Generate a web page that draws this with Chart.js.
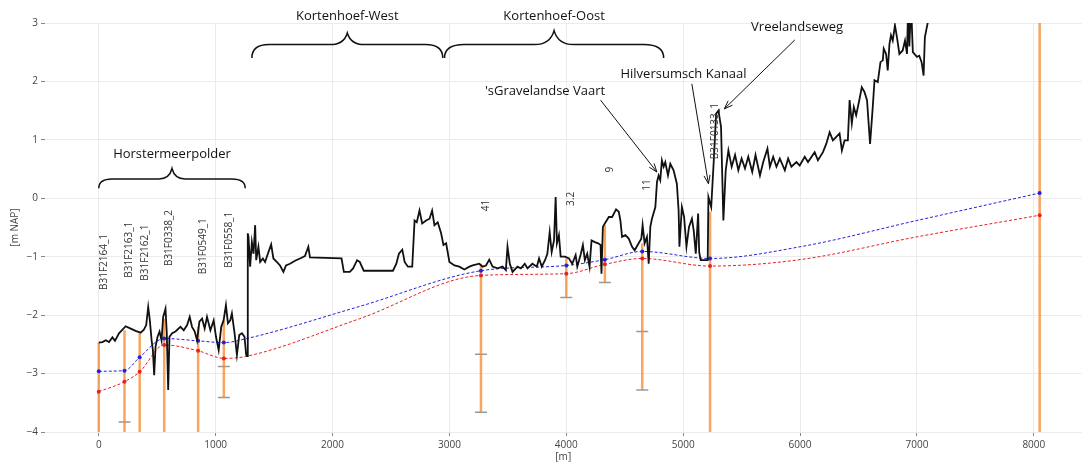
<!DOCTYPE html>
<html>
<head>
<meta charset="utf-8">
<script src="https://cdn.jsdelivr.net/npm/chart.js@4.4.1/dist/chart.umd.min.js"></script>
<style>
  body { margin: 0; background: #fff; }
  #wrap { width: 1089px; height: 465px; }
</style>
</head>
<body>
<div id="wrap"><canvas id="chart" width="1089" height="465"></canvas></div>
<script>
// Ground level along the profile [m] -> [m NAP]
const groundX = [0,31,60,88,117,139,173,230,273,315,358,386,406,423,437,452,463,474,486,503,520,537,551,571,582,594,605,628,656,699,727,756,778,798,821,841,861,884,906,926,955,983,1003,1026,1048,1068,1088,1105,1125,1139,1162,1182,1202,1225,1247,1261,1270,1275,1281,1295,1310,1324,1338,1347,1366,1381,1404,1423,1452,1475,1494,1523,1551,1580,1602,1636,1679,1722,1764,1793,1807,2077,2097,2148,2176,2210,2233,2267,2446,2517,2546,2568,2597,2617,2645,2682,2702,2721,2744,2767,2801,2830,2852,2872,2900,2929,2949,2972,3000,3043,3085,3128,3171,3199,3256,3284,3313,3341,3369,3412,3455,3483,3497,3517,3540,3582,3611,3645,3668,3710,3748,3767,3790,3818,3838,3858,3875,3895,3909,3920,3937,3952,3989,4023,4051,4080,4094,4122,4142,4159,4179,4199,4216,4244,4273,4293,4301,4313,4336,4364,4392,4426,4449,4463,4477,4506,4534,4563,4585,4619,4642,4653,4670,4690,4705,4719,4733,4762,4776,4790,4804,4818,4833,4847,4870,4890,4918,4946,4961,4968,4989,5008,5028,5050,5075,5090,5108,5128,5137,5150,5210,5216,5240,5262,5282,5302,5324,5344,5364,5387,5415,5444,5472,5500,5529,5557,5591,5619,5657,5685,5721,5742,5770,5798,5827,5870,5898,5926,5969,5997,6040,6068,6125,6153,6196,6224,6253,6281,6310,6338,6358,6381,6409,6424,6443,6460,6480,6509,6528,6551,6573,6599,6622,6637,6665,6688,6708,6716,6736,6750,6765,6778,6793,6812,6829,6850,6878,6898,6915,6925,6935,6950,6965,7000,7020,7040,7057,7068,7091,7125];
const groundY = [-2.47,-2.46,-2.43,-2.46,-2.38,-2.44,-2.31,-2.19,-2.23,-2.27,-2.30,-2.25,-2.17,-1.86,-2.09,-2.43,-2.60,-3.03,-2.54,-2.37,-2.28,-2.43,-2.03,-1.89,-2.31,-3.28,-2.37,-2.31,-2.28,-2.20,-2.26,-2.17,-2.03,-2.20,-2.28,-2.43,-2.11,-2.06,-2.23,-2.03,-2.26,-2.09,-2.37,-2.60,-2.20,-2.09,-1.83,-2.14,-2.09,-1.97,-2.31,-2.68,-2.34,-2.31,-2.37,-2.68,-2.70,-0.60,-0.66,-1.17,-0.75,-0.95,-0.46,-1.06,-0.83,-1.09,-1.03,-1.09,-0.92,-0.79,-1.03,-1.09,-1.15,-1.26,-1.15,-1.12,-1.07,-1.03,-0.99,-0.83,-1.01,-1.03,-1.26,-1.26,-1.20,-1.06,-1.09,-1.24,-1.24,-1.24,-1.12,-0.95,-0.88,-1.09,-1.17,-1.17,-0.38,-0.41,-0.21,-0.43,-0.38,-0.35,-0.21,-0.46,-0.41,-0.60,-0.80,-0.77,-1.09,-1.15,-1.17,-1.22,-1.17,-1.15,-1.12,-1.17,-1.15,-1.05,-1.17,-1.20,-1.17,-1.23,-0.83,-1.12,-1.26,-1.17,-1.20,-1.12,-1.20,-1.12,-1.17,-1.03,-1.17,-1.06,-0.95,-0.58,-0.92,-0.72,0.02,-0.77,-0.63,-1.00,-1.00,-1.03,-1.12,-0.97,-1.17,-0.97,-0.80,-1.06,-0.95,-1.17,-0.72,-0.75,-0.77,-0.80,-1.29,-0.49,-0.41,-0.32,-0.32,-0.19,-0.23,-0.38,-0.66,-0.63,-0.69,-0.83,-0.89,-0.77,-0.69,-0.46,-0.77,-0.66,-1.12,-0.49,-0.35,-0.15,0.28,0.39,0.31,0.65,0.54,0.62,0.39,0.59,0.48,0.25,-0.21,-0.83,-0.15,-0.32,-0.83,-0.49,-0.35,-0.55,-0.95,-0.26,-0.92,-1.06,-1.06,0.02,-0.15,0.65,1.45,1.50,1.22,-0.38,0.48,0.82,0.54,0.74,0.48,0.68,0.51,0.71,0.45,0.74,0.39,0.62,0.85,0.54,0.71,0.54,0.68,0.48,0.68,0.54,0.62,0.56,0.71,0.62,0.79,0.65,0.79,0.93,1.13,0.99,1.05,1.11,0.82,0.99,0.99,1.68,1.28,1.56,1.42,1.70,1.90,1.82,1.68,0.93,1.56,2.02,1.99,2.33,2.36,2.56,2.47,2.19,2.64,2.79,2.70,2.96,2.76,2.47,2.53,2.70,2.47,3.30,2.60,3.30,2.50,2.42,2.44,2.33,2.10,2.76,2.99,3.30];

// Boreholes: position, top, bottom, label
const boreX = [0, 220, 350, 560, 850, 1070, 3270, 4000, 4330, 4650, 5230, 8050];
const boreTop = [-2.47, -2.26, -2.31, -2.06, -2.20, -2.09, -1.12, -1.03, -0.46, -0.77, -0.23, 3.5];
const boreBottom = [-4, -4, -4, -4, -4, -3.41, -3.66, -1.70, -1.44, -3.28, -4, -4];
const boreLabels = ['B31F2164_1', 'B31F2163_1', 'B31F2162_1', 'B31F0338_2', 'B31F0549_1', 'B31F0558_1', '41', '3.2', '9', '11', 'B31F0133_1', ''];

// Layer depth marks (grey)
const layerX = [220, 1070, 1070, 3270, 3270, 4000, 4330, 4650, 4650];
const layerY = [-3.83, -2.88, -3.41, -2.67, -3.66, -1.70, -1.44, -2.28, -3.28];

// Blue and red dashed curves
const blueX = [0, 220, 350, 560, 850, 1070, 1267, 2233, 3270, 4000, 4330, 4650, 5230, 6000, 7000, 8050];
const blueY = [-2.96, -2.95, -2.72, -2.40, -2.44, -2.47, -2.40, -1.85, -1.24, -1.15, -1.05, -0.91, -1.03, -0.83, -0.38, 0.09];
const redX = [0, 220, 350, 560, 850, 1070, 1250, 2233, 3270, 4000, 4330, 4650, 5230, 6000, 7000, 8050];
const redY = [-3.31, -3.14, -2.97, -2.51, -2.61, -2.74, -2.71, -2.06, -1.32, -1.29, -1.13, -1.03, -1.16, -1.05, -0.66, -0.29];

// Axis ticks
const xTicks = [0, 1000, 2000, 3000, 4000, 5000, 6000, 7000, 8000];
const yTicks = [-4, -3, -2, -1, 0, 1, 2, 3];

// Area braces
const braceLabels = ['Horstermeerpolder', 'Kortenhoef-West', 'Kortenhoef-Oost'];
const braceStart = [0, 1310, 2958];
const braceEnd = [1253, 2943, 4833];
const braceBase = [0.17, 2.40, 2.40];
const braceMid = [0.33, 2.63, 2.63];
const bracePeak = [0.51, 2.83, 2.87];
const braceTextY = [0.75, 3.11, 3.11];

// Arrow annotations
const arrowLabels = ["'sGravelandse Vaart", 'Hilversumsch Kanaal', 'Vreelandseweg'];
const arrowTextX = [3818, 5003, 5975];
const arrowTextY = [1.83, 2.12, 2.92];
const arrowFromX = [4293, 5074, 5955];
const arrowFromY = [1.68, 1.96, 2.71];
const arrowToX = [4775, 5216, 5352];
const arrowToY = [0.45, 0.25, 1.53];

const FONT = '"Open Sans", "Noto Sans", sans-serif';

const toPoints = (xs, ys) => xs.map((x, i) => ({ x: x, y: ys[i] }));
const markerRadius = ctx => (ctx.raw && boreX.includes(ctx.raw.x)) ? 2 : 0;

const datasets = [];

datasets.push({
    label: 'maaiveld',
    data: toPoints(groundX, groundY),
    borderColor: '#111',
    borderWidth: 1.8,
    pointRadius: 0,
    order: 0
});

datasets.push({
    label: 'blue',
    data: toPoints(blueX, blueY),
    borderColor: '#2020e0',
    backgroundColor: '#2020e0',
    borderWidth: 1,
    borderDash: [3, 2],
    cubicInterpolationMode: 'monotone',
    pointRadius: markerRadius,
    pointBorderWidth: 0,
    order: 1
});

datasets.push({
    label: 'red',
    data: toPoints(redX, redY),
    borderColor: '#e82020',
    backgroundColor: '#e82020',
    borderWidth: 1,
    borderDash: [3, 2],
    cubicInterpolationMode: 'monotone',
    pointRadius: markerRadius,
    pointBorderWidth: 0,
    order: 1
});

// one small dataset per borehole
boreX.forEach((x, i) => {
    datasets.push({
        label: 'bore' + i,
        data: [{ x: x, y: boreTop[i] }, { x: x, y: boreBottom[i] }],
        borderColor: 'rgba(245, 135, 40, 0.75)',
        borderWidth: 2.5,
        pointRadius: 0,
        order: 2
    });
});

datasets.push({
    label: 'layers',
    data: toPoints(layerX, layerY),
    showLine: false,
    pointStyle: 'line',
    pointRadius: 6,
    borderColor: '#999',
    pointBorderWidth: 1.5,
    order: 3
});

function drawBrace(ctx, x0, x1, yb, ym, yp) {
    const xc = (x0 + x1) / 2;
    const r = (x1 - x0) * 0.09;
    ctx.beginPath();
    ctx.moveTo(x0, yb);
    ctx.quadraticCurveTo(x0, ym, x0 + r, ym);
    ctx.lineTo(xc - r, ym);
    ctx.quadraticCurveTo(xc - r * 0.2, ym, xc, yp);
    ctx.quadraticCurveTo(xc + r * 0.2, ym, xc + r, ym);
    ctx.lineTo(x1 - r, ym);
    ctx.quadraticCurveTo(x1, ym, x1, yb);
    ctx.stroke();
}

const annotationPlugin = {
    id: 'annotations',
    afterDraw(chart) {
        const ctx = chart.ctx;
        const px = v => chart.scales.x.getPixelForValue(v);
        const py = v => chart.scales.y.getPixelForValue(v);
        ctx.save();

        // borehole names, reading upwards
        ctx.fillStyle = '#333';
        ctx.font = '10px ' + FONT;
        ctx.textAlign = 'left';
        ctx.textBaseline = 'top';
        boreLabels.forEach((name, i) => {
            if (!name) return;
            ctx.save();
            ctx.translate(px(boreX[i]), py(boreTop[i] + 0.9));
            ctx.rotate(-Math.PI / 2);
            ctx.fillText(name, 0, 0);
            ctx.restore();
        });

        // braces with their names
        ctx.strokeStyle = '#111';
        ctx.lineWidth = 1.5;
        ctx.fillStyle = '#111';
        ctx.font = '13px ' + FONT;
        ctx.textAlign = 'center';
        ctx.textBaseline = 'middle';
        braceLabels.forEach((name, i) => {
            drawBrace(ctx, px(braceStart[i]), px(braceEnd[i]), py(braceBase[i]), py(braceMid[i]), py(bracePeak[i]));
            ctx.fillText(name, px((braceStart[i] + braceEnd[i]) / 2), py(braceTextY[i]));
        });

        // arrows
        ctx.lineWidth = 1;
        arrowLabels.forEach((name, i) => {
            ctx.fillText(name, px(arrowTextX[i]), py(arrowTextY[i]));
            const x0 = px(arrowFromX[i]), y0 = py(arrowFromY[i]);
            const x1 = px(arrowToX[i]), y1 = py(arrowToY[i]);
            const a = Math.atan2(y1 - y0, x1 - x0);
            ctx.beginPath();
            ctx.moveTo(x0, y0);
            ctx.lineTo(x1, y1);
            ctx.moveTo(x1 - 9 * Math.cos(a - 0.35), y1 - 9 * Math.sin(a - 0.35));
            ctx.lineTo(x1, y1);
            ctx.lineTo(x1 - 9 * Math.cos(a + 0.35), y1 - 9 * Math.sin(a + 0.35));
            ctx.stroke();
        });

        ctx.restore();
    }
};

const tickFont = { family: FONT, size: 10 };

new Chart(document.getElementById('chart'), {
    type: 'line',
    data: { datasets: datasets },
    options: {
        responsive: false,
        animation: false,
        devicePixelRatio: 1,
        layout: { padding: { top: 23, left: 0, right: 0, bottom: 0 } },
        plugins: {
            legend: { display: false },
            tooltip: { enabled: false }
        },
        scales: {
            x: {
                type: 'linear',
                min: -460,
                max: 8408,
                border: { display: false },
                grid: { color: '#ebebeb', tickColor: '#888', tickLength: 4 },
                ticks: {
                    maxRotation: 0,
                    autoSkip: false,
                    padding: 3,
                    color: '#444',
                    font: tickFont,
                    callback: v => String(v)
                },
                afterBuildTicks: scale => { scale.ticks = xTicks.map(v => ({ value: v })); },
                title: { display: true, text: '[m]', color: '#444', font: tickFont, padding: { top: 2, bottom: 2 } },
                afterFit: scale => { scale.height = 33; }
            },
            y: {
                min: -4,
                max: 3,
                border: { display: false },
                grid: { color: '#ebebeb', tickColor: '#888', tickLength: 4 },
                ticks: {
                    padding: 3,
                    color: '#444',
                    font: tickFont,
                    callback: v => v < 0 ? '\u2212' + Math.abs(v) : String(v)
                },
                afterBuildTicks: scale => { scale.ticks = yTicks.map(v => ({ value: v })); },
                title: { display: true, text: '[m NAP]', color: '#444', font: tickFont, padding: { top: 9, bottom: 9 } },
                afterFit: scale => { scale.width = 45; }
            }
        }
    },
    plugins: [annotationPlugin]
});
</script>
</body>
</html>
